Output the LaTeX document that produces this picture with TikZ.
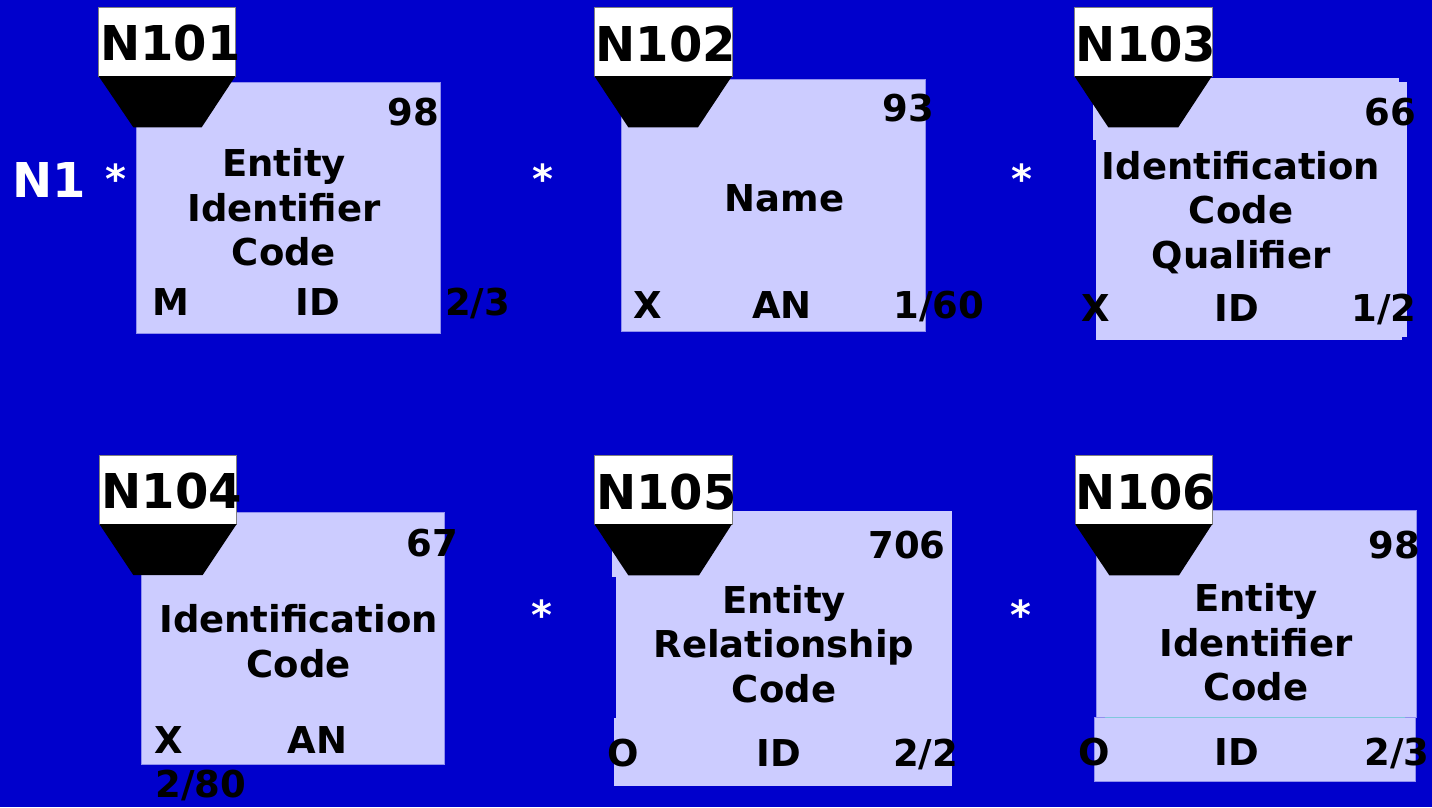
\documentclass[tikz,border=0pt]{standalone}
\usepackage{fontspec}
\setmainfont{DejaVu Sans}
\definecolor{bg}{HTML}{0000CC}
\definecolor{segfill}{HTML}{CCCCFF}
\definecolor{segedge}{HTML}{9090EE}
\definecolor{tabedge}{HTML}{808080}
\definecolor{sepline}{HTML}{7FC8DC}
\begin{document}
\begin{tikzpicture}[x=1pt,y=-1pt,
  seg/.style={fill=segfill, draw=segedge, line width=0.6pt},
  tabbox/.style={fill=white, draw=tabedge, line width=0.8pt},
  trap/.style={fill=black, draw=none},
  lbl/.style={font=\fontsize{37}{44.5}\selectfont\bfseries, inner sep=0pt, anchor=base, text=black},
  tag/.style={font=\fontsize{48}{56}\selectfont\bfseries, inner sep=0pt, anchor=base, text=black},
  wtag/.style={tag, text=white},
  star/.style={font=\fontsize{40}{48}\selectfont\bfseries, inner sep=0pt, anchor=base, text=white},
]
\fill[bg] (0,0) rectangle (1432,807);
\useasboundingbox (0,0) rectangle (1432,807);

% ---------- N101 ----------
\draw[seg] (136,82) rectangle (440,333);
\draw[tabbox] (98.5,7.5) rectangle (235.5,76);
\fill[trap] (98.5,76) -- (235.5,76) -- (201.7,127.3) -- (133.3,127.3) -- cycle;
\node[tag] (n101) at (170.3,60) {N101};
\node[lbl] (p1) at (413.5,125) {98};
\node[lbl] (d1) at (284,176.7) {\begin{tabular}[t]{@{}c@{}}Entity\\Identifier\\Code\end{tabular}};
\node[lbl] (r1) at (171,315) {M};
\node[lbl] (t1) at (317.5,315) {ID};
\node[lbl] (l1) at (477.5,315) {2/3};
\node[wtag] (loop) at (49,197) {N1};
\node[star] (s1) at (115.5,193) {*};

% ---------- N102 ----------
\draw[seg] (621,79) rectangle (925,331);
\draw[tabbox] (594.3,7.5) rectangle (732,76);
\fill[trap] (594.3,76) -- (732,76) -- (698,127.3) -- (628.3,127.3) -- cycle;
\node[tag] (n102) at (665.8,61) {N102};
\node[lbl] (p2) at (908.5,121.7) {93};
\node[lbl] (d2) at (784.5,211.7) {Name};
\node[lbl] (r2) at (647.5,318.3) {X};
\node[lbl] (t2) at (782,318.3) {AN};
\node[lbl] (l2) at (938.8,318.3) {1/60};
\node[star] (s2) at (542.5,193) {*};

% ---------- N103 ----------
\fill[segfill] (1093,78.3) rectangle (1399,140);
\fill[segfill] (1096,82) rectangle (1406.5,337);
\fill[segfill] (1096,130) rectangle (1402,340);
\draw[tabbox] (1074.3,7.5) rectangle (1212,76);
\fill[trap] (1074.3,76) -- (1212,76) -- (1178.3,127.3) -- (1108.3,127.3) -- cycle;
\node[tag] (n103) at (1146,61.7) {N103};
\node[lbl] (p3) at (1390,125) {66};
\node[lbl] (d3) at (1241,179) {\begin{tabular}[t]{@{}c@{}}Identification\\Code\\Qualifier\end{tabular}};
\node[lbl] (r3) at (1095.3,321.7) {X};
\node[lbl] (t3) at (1236.8,321.7) {ID};
\node[lbl] (l3) at (1383.8,321.7) {1/2};
\node[star] (s3) at (1021.5,193) {*};

% ---------- N104 ----------
\draw[seg] (141,512.3) rectangle (444.3,764);
\draw[tabbox] (99.3,455.7) rectangle (236.7,524);
\fill[trap] (99.3,524) -- (236.7,524) -- (202.7,575) -- (133.3,575) -- cycle;
\node[tag] (n104) at (171.7,508.3) {N104};
\node[lbl] (p4) at (432,556.7) {67};
\node[lbl] (d4) at (298.5,632.7) {\begin{tabular}[t]{@{}c@{}}Identification\\Code\end{tabular}};
\node[lbl] (r4) at (169.2,753.3) {X};
\node[lbl] (t4) at (317.7,753.3) {AN};
\node[lbl] (l4) at (200.8,797.3) {2/80};

% ---------- N105 ----------
\fill[segfill] (612.3,510.7) rectangle (952,577);
\fill[segfill] (616,570) rectangle (952,720);
\fill[segfill] (614.3,718) rectangle (952,785.7);
\draw[tabbox] (594.3,455.7) rectangle (732,524);
\fill[trap] (594.3,524) -- (732,524) -- (699,575.3) -- (628.3,575.3) -- cycle;
\node[tag] (n105) at (666.5,509) {N105};
\node[lbl] (p5) at (907,558.3) {706};
\node[lbl] (d5) at (784,613.3) {\begin{tabular}[t]{@{}c@{}}Entity\\Relationship\\Code\end{tabular}};
\node[lbl] (r5) at (622.8,766.7) {O};
\node[lbl] (t5) at (778.8,766.7) {ID};
\node[lbl] (l5) at (925.5,766.7) {2/2};
\node[star] (s5) at (542,629) {*};

% ---------- N106 ----------
\draw[seg] (1096,510.7) rectangle (1416,717.3);
\draw[seg] (1094,717.3) rectangle (1415.3,781.7);
\draw[sepline, line width=0.8pt] (1105,717.3) -- (1405,717.3);
\draw[tabbox] (1075,455.7) rectangle (1212.3,524);
\fill[trap] (1075,524) -- (1212.3,524) -- (1179,575.3) -- (1109.3,575.3) -- cycle;
\node[tag] (n106) at (1146,509) {N106};
\node[lbl] (p6) at (1394.5,558.3) {98};
\node[lbl] (d6) at (1256,611.7) {\begin{tabular}[t]{@{}c@{}}Entity\\Identifier\\Code\end{tabular}};
\node[lbl] (r6) at (1093.8,765) {O};
\node[lbl] (t6) at (1236.8,765) {ID};
\node[lbl] (l6) at (1397,765) {2/3};
\node[star] (s6) at (1021,629) {*};
\end{tikzpicture}
\end{document}
